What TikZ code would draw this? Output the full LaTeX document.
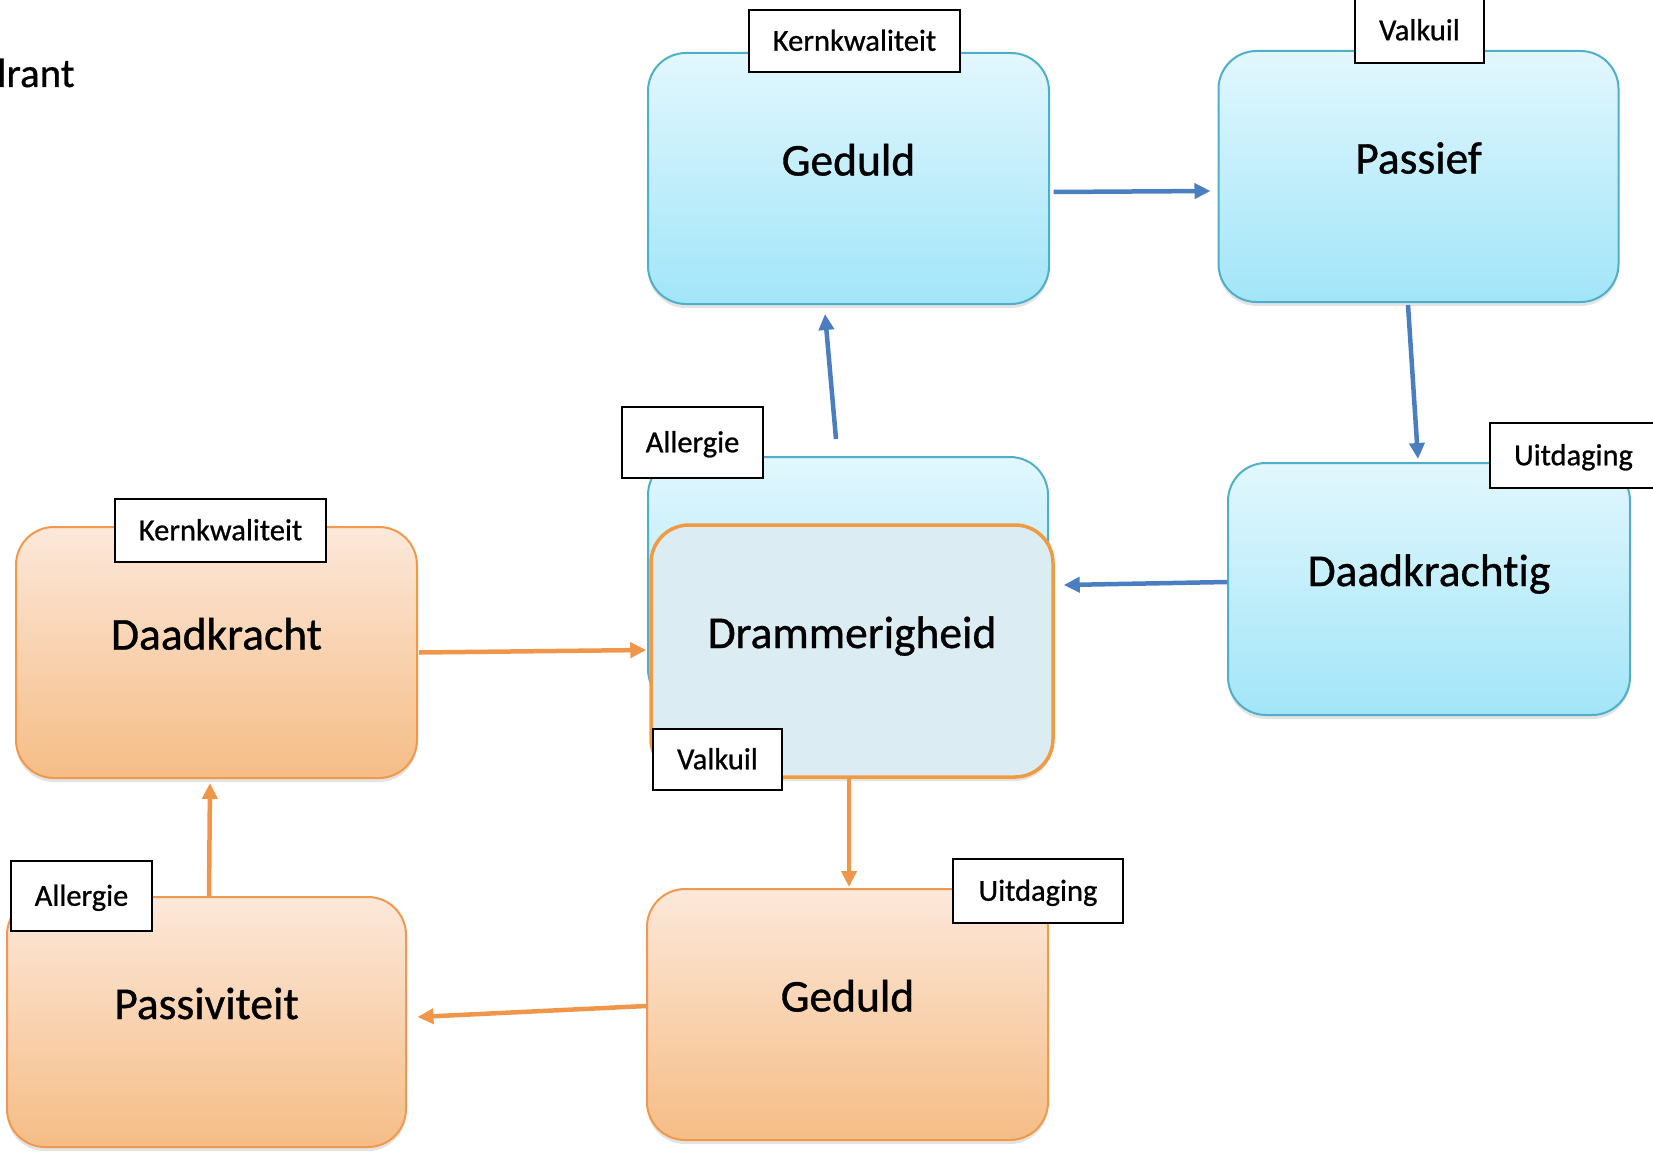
\documentclass[tikz,border=0pt]{standalone}
\usepackage{fontspec}
\setmainfont{Carlito}[Ligatures=CommonOff]
\newfontfamily\boxfont{Carlito}[FakeBold=0.8, Ligatures=CommonOff]
\usetikzlibrary{arrows.meta,shadows,calc}
\definecolor{bluetop}{HTML}{E2F7FD}
\definecolor{bluebot}{HTML}{A2E5F8}
\definecolor{blueline}{HTML}{4FAFCB}
\definecolor{orgtop}{HTML}{FCE8DA}
\definecolor{orgbot}{HTML}{F5BD86}
\definecolor{orgline}{HTML}{F0994C}
\definecolor{drfill}{HTML}{DBEDF3}
\definecolor{drline}{HTML}{F29A40}
\definecolor{arrblue}{HTML}{4A7EC0}
\definecolor{arrorg}{HTML}{F0964A}
\tikzset{
  box/.style={rounded corners=38pt, inner sep=0pt, text height=29pt, text depth=35pt,
    font=\boxfont\fontsize{45.5}{52}\selectfont,
    drop shadow={opacity=0.22, shadow xshift=0pt, shadow yshift=-4pt}},
  bluebox/.style={box, draw=blueline, line width=2pt, top color=bluetop, bottom color=bluebot},
  orgbox/.style={box, draw=orgline, line width=2pt, top color=orgtop, bottom color=orgbot},
  drbox/.style={box, draw=drline, line width=3.5pt, fill=drfill},
  tag/.style={draw=black, line width=2pt, fill=white, inner sep=0pt, text height=19.5pt,
    text depth=0pt, font=\boxfont\fontsize{30.5}{36}\selectfont},
  barrow/.style={draw=arrblue, line width=4.5pt, -{Triangle[length=16pt,width=15pt]}},
  oarrow/.style={draw=arrorg, line width=4.5pt, -{Triangle[length=16pt,width=15pt]}}
}
\begin{document}
\begin{tikzpicture}[x=1pt,y=-1pt]
\useasboundingbox (0,0) rectangle (1653,1153);
\node[anchor=base west, inner sep=0pt, font=\boxfont\fontsize{41}{48}\selectfont] (title) at (-3,87) {lrant};

% boxes
\node[bluebox, minimum width=401pt, minimum height=251pt] (gedtop) at (848.5,178.5) {Geduld};
\node[bluebox, minimum width=400pt, minimum height=251pt] (passief) at (1418.5,176.5) {Passief};
\node[bluebox, minimum width=402pt, minimum height=252pt] (daadkrachtig) at (1429,589) {Daadkrachtig};
\node[bluebox, minimum width=400pt, minimum height=250pt] (allbox) at (848,582) {};
\node[drbox, minimum width=402pt, minimum height=252pt] (dramm) at (852,651) {Drammerigheid};
\node[orgbox, minimum width=401pt, minimum height=251pt] (daadkracht) at (216.5,652.5) {Daadkracht};
\node[orgbox, minimum width=399pt, minimum height=250pt] (passiviteit) at (206.5,1022) {Passiviteit};
\node[orgbox, minimum width=401pt, minimum height=251pt] (gedbot) at (847.5,1014.5) {Geduld};

% connectors
\draw[barrow] ($(gedtop.east)+(3.5,13.5)$) -- ($(passief.west)+(-7,14.5)$);
\draw[barrow] ($(passief.south)+(-10.5,2)$) -- ($(daadkrachtig.north)+(-11,-3)$);
\draw[barrow] ($(daadkrachtig.west)+(0,-7)$) -- ($(dramm.east)+(9,-66)$);
\draw[barrow] ($(allbox.north)+(-12,-17)$) -- ($(gedtop.south)+(-23.5,9)$);
\draw[oarrow] ($(daadkracht.east)+(1,0)$) -- ($(dramm.west)+(-3,-1)$);
\draw[oarrow] ($(dramm.south)+(-3,0)$) -- ($(gedbot.north)+(1.5,-1)$);
\draw[oarrow] ($(gedbot.west)+(0,-8.5)$) -- ($(passiviteit.east)+(10.5,-5)$);
\draw[oarrow] ($(passiviteit.north)+(2.5,0)$) -- ($(daadkracht.south)+(-6.5,4)$);

% tags
\node[tag, minimum width=211pt, minimum height=62pt] (t1) at (854.5,41) {Kernkwaliteit};
\node[tag, minimum width=129pt, minimum height=65pt] (t2) at (1419.5,30.5) {Valkuil};
\node[tag, minimum width=167pt, minimum height=65pt] (t3) at (1573.5,455.5) {Uitdaging};
\node[tag, minimum width=141pt, minimum height=71pt] (t4) at (692.5,442.5) {Allergie};
\node[tag, minimum width=211pt, minimum height=63pt] (t5) at (220.5,530.5) {Kernkwaliteit};
\node[tag, minimum width=129pt, minimum height=61pt] (t6) at (717.5,759.5) {Valkuil};
\node[tag, minimum width=141pt, minimum height=70pt] (t7) at (81.5,896) {Allergie};
\node[tag, minimum width=170pt, minimum height=64pt] (t8) at (1038,891) {Uitdaging};
\end{tikzpicture}
\end{document}
